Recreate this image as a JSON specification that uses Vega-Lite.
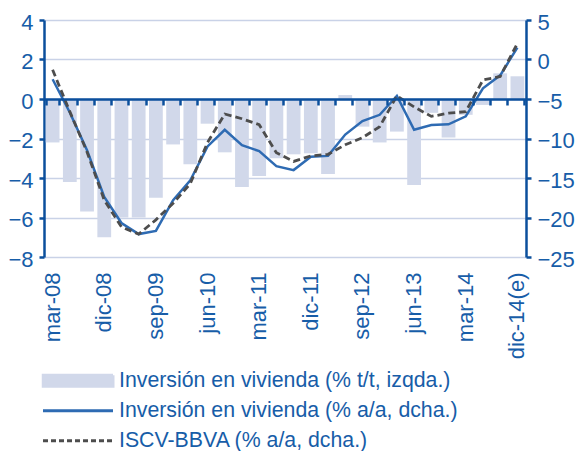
{
  "$schema": "https://vega.github.io/schema/vega-lite/v6.json",
  "autosize": {"type": "none"},
  "width": 482,
  "height": 237,
  "padding": {"left": 44, "top": 20, "right": 49, "bottom": 194},
  "config": {
    "view": {"stroke": null},
    "font": "Liberation Sans",
    "axis": {"labelFont": "Liberation Sans", "labelColor": "#175DA8", "domainColor": "#0B4F9C", "tickColor": "#0B4F9C", "title": null, "labelOverlap": false}
  },
  "data": {
    "values": [
      {"q": "mar-08", "tt": -2.2, "aa": -2.5, "iscv": -1.3},
      {"q": "jun-08", "tt": -4.2, "aa": -6.7, "iscv": -6.6},
      {"q": "sep-08", "tt": -5.7, "aa": -11.5, "iscv": -11.7},
      {"q": "dic-08", "tt": -7.0, "aa": -17.4, "iscv": -17.8},
      {"q": "mar-09", "tt": -6.0, "aa": -20.7, "iscv": -21.2},
      {"q": "jun-09", "tt": -6.0, "aa": -22.1, "iscv": -22.1},
      {"q": "sep-09", "tt": -5.0, "aa": -21.7, "iscv": -20.3},
      {"q": "dic-09", "tt": -2.3, "aa": -17.8, "iscv": -18.2},
      {"q": "mar-10", "tt": -3.3, "aa": -15.3, "iscv": -15.7},
      {"q": "jun-10", "tt": -1.25, "aa": -11.0, "iscv": -10.5},
      {"q": "sep-10", "tt": -2.7, "aa": -8.9, "iscv": -6.9},
      {"q": "dic-10", "tt": -4.45, "aa": -10.85, "iscv": -7.5},
      {"q": "mar-11", "tt": -3.9, "aa": -11.6, "iscv": -8.25},
      {"q": "jun-11", "tt": -3.0, "aa": -13.5, "iscv": -11.8},
      {"q": "sep-11", "tt": -2.8, "aa": -14.0, "iscv": -12.9},
      {"q": "dic-11", "tt": -2.75, "aa": -12.3, "iscv": -12.2},
      {"q": "mar-12", "tt": -3.8, "aa": -12.2, "iscv": -12.0},
      {"q": "jun-12", "tt": 0.2, "aa": -9.5, "iscv": -10.8},
      {"q": "sep-12", "tt": -1.4, "aa": -7.8, "iscv": -9.9},
      {"q": "dic-12", "tt": -2.2, "aa": -7.0, "iscv": -8.5},
      {"q": "mar-13", "tt": -1.65, "aa": -4.6, "iscv": -4.6},
      {"q": "jun-13", "tt": -4.35, "aa": -8.9, "iscv": -6.0},
      {"q": "sep-13", "tt": -0.7, "aa": -8.3, "iscv": -7.2},
      {"q": "dic-13", "tt": -1.95, "aa": -8.2, "iscv": -6.8},
      {"q": "mar-14", "tt": -0.8, "aa": -7.2, "iscv": -6.6},
      {"q": "jun-14", "tt": -0.3, "aa": -3.65, "iscv": -2.6},
      {"q": "sep-14", "tt": 1.3, "aa": -2.0, "iscv": -2.15},
      {"q": "dic-14(e)", "tt": 1.15, "aa": 1.5, "iscv": 2.05}
    ]
  },
  "layer": [
    {
      "mark": {"type": "bar"},
      "encoding": {
        "x": {
          "field": "q", "type": "ordinal", "sort": null,
          "scale": {"paddingInner": 0.2, "paddingOuter": 0.1},
          "axis": {
            "orient": "bottom",
            "values": ["mar-08", "dic-08", "sep-09", "jun-10", "mar-11", "dic-11", "sep-12", "jun-13", "mar-14", "dic-14(e)"],
            "labelAngle": -90, "labelFontSize": 22, "labelPadding": 15,
            "domain": false, "ticks": false, "grid": false
          }
        },
        "y": {
          "field": "tt", "type": "quantitative",
          "scale": {"domain": [-8, 4], "nice": false, "zero": false},
          "axis": {
            "orient": "left",
            "values": [-8, -6, -4, -2, 0, 2, 4],
            "grid": true, "gridColor": "#C9D2E7", "gridWidth": 1.3,
            "domainWidth": 2.5, "tickSize": 5, "tickWidth": 2.5,
            "labelFontSize": 22, "labelPadding": 6, "labelOffset": 2, "labelOverlap": false
          }
        },
        "color": {
          "datum": "Inversión en vivienda (% t/t, izqda.)",
          "scale": {
            "domain": ["Inversión en vivienda (% t/t, izqda.)", "Inversión en vivienda (% a/a, dcha.)", "ISCV-BBVA (% a/a, dcha.)"],
            "range": ["#D1D8EA", "#2E6BB3", "#4D4D4D"]
          },
          "legend": {
            "orient": "none", "legendX": -2.5, "legendY": 346, "direction": "vertical",
            "title": null, "padding": 0,
            "symbolSize": 4900, "symbolStrokeWidth": 3,
            "clipHeight": 29.5, "rowPadding": 0,
            "labelFont": "Liberation Sans", "labelFontSize": 21.3, "labelColor": "#175DA8",
            "labelOffset": 4.5, "labelLimit": 600,
            "encode": {
              "symbols": {
                "update": {
                  "shape": {"signal": "datum.value === 'Inversión en vivienda (% t/t, izqda.)' ? 'M-1,-0.16L1,-0.16L1,0.16L-1,0.16Z' : 'stroke'"},
                  "fill": {"signal": "datum.value === 'Inversión en vivienda (% t/t, izqda.)' ? '#D1D8EA' : 'transparent'"},
                  "stroke": {"signal": "datum.value === 'Inversión en vivienda (% t/t, izqda.)' ? 'transparent' : (datum.value === 'ISCV-BBVA (% a/a, dcha.)' ? '#4D4D4D' : '#2E6BB3')"},
                  "strokeDash": {"signal": "datum.value === 'ISCV-BBVA (% a/a, dcha.)' ? [5, 3] : [1, 0]"},
                  "strokeWidth": {"value": 3},
                  "size": {"value": 4900},
                  "opacity": {"value": 1}
                }
              }
            }
          }
        }
      }
    },
    {
      "layer": [
        {
          "mark": {"type": "line", "strokeWidth": 2.5},
          "encoding": {
            "x": {
              "field": "q", "type": "ordinal", "sort": null,
              "axis": {
                "orient": "bottom", "offset": -158, "labels": false,
                "ticks": true, "tickBand": "extent", "tickSize": 6, "tickWidth": 2.5,
                "domain": true, "domainWidth": 2.5, "grid": false, "zindex": 1
              }
            },
            "y": {
              "field": "aa", "type": "quantitative",
              "scale": {"domain": [-25, 5], "nice": false, "zero": false},
              "axis": {
                "orient": "right",
                "values": [-25, -20, -15, -10, -5, 0, 5],
                "grid": false, "domainWidth": 2.5, "tickSize": 5, "tickWidth": 2.5,
                "labelFontSize": 22, "labelPadding": 6, "labelOffset": 2, "labelOverlap": false
              }
            },
            "color": {"datum": "Inversión en vivienda (% a/a, dcha.)"}
          }
        },
        {
          "mark": {"type": "line", "strokeWidth": 2.8, "strokeDash": [7, 4]},
          "encoding": {
            "x": {"field": "q", "type": "ordinal", "sort": null},
            "y": {
              "field": "iscv", "type": "quantitative",
              "axis": {
                "orient": "right",
                "values": [-25, -20, -15, -10, -5, 0, 5],
                "grid": false, "domainWidth": 2.5, "tickSize": 5, "tickWidth": 2.5,
                "labelFontSize": 22, "labelPadding": 6, "labelOffset": 2, "labelOverlap": false
              }
            },
            "color": {"datum": "ISCV-BBVA (% a/a, dcha.)"}
          }
        }
      ]
    }
  ],
  "resolve": {"scale": {"y": "independent"}, "axis": {"x": "independent", "y": "independent"}}
}
